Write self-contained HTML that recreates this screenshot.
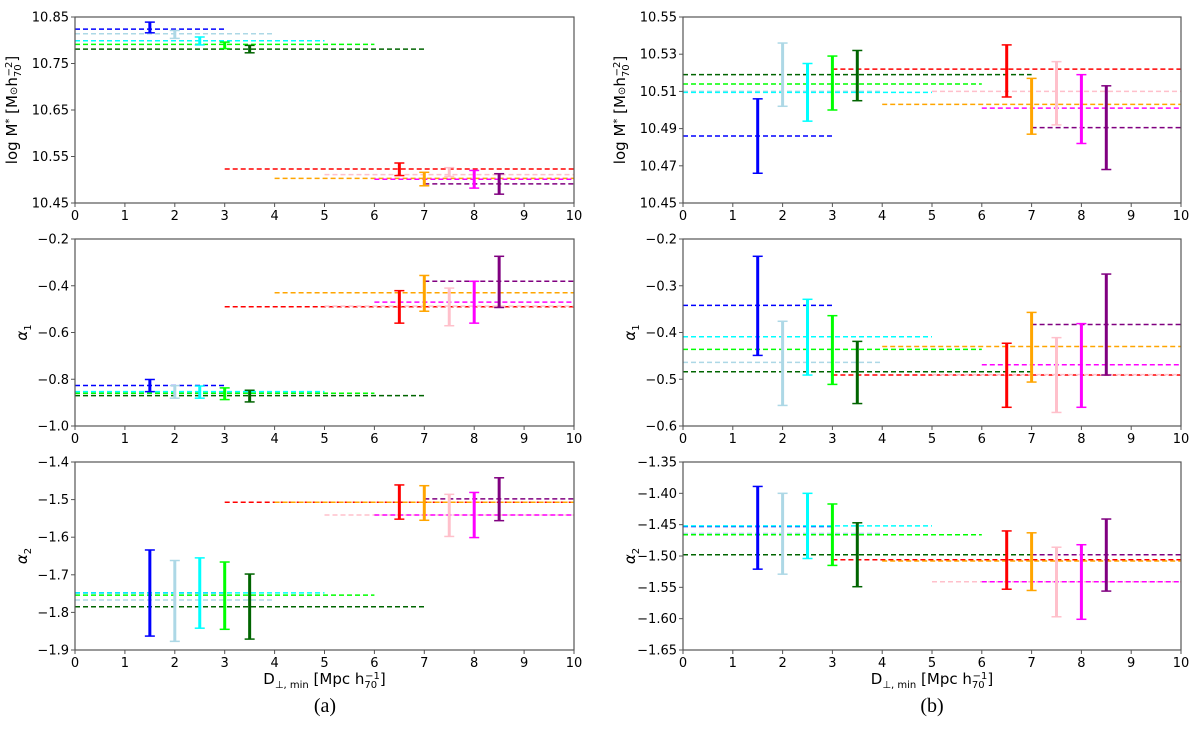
<!DOCTYPE html>
<html><head><meta charset="utf-8">
<style>
html,body{margin:0;padding:0;background:#fff;}
svg{display:block;font-family:"DejaVu Sans","Liberation Sans",sans-serif;}
</style></head>
<body>
<svg id="fig" width="1200" height="748" xmlns="http://www.w3.org/2000/svg"></svg>
<script>
const xPositions = [1.5, 2, 2.5, 3, 3.5, 6.5, 7, 7.5, 8, 8.5];
const lineStarts = [0, 0, 0, 0, 0, 3, 4, 5, 6, 7];
const lineEnds = [3, 4, 5, 6, 7, 10, 10, 10, 10, 10];
const seriesNames = ['blue','lightblue','cyan','green','darkgreen','red','orange','pink','magenta','purple'];
const seriesColors = ['#0000ff','#add8e6','#00ffff','#00ff00','#006400','#ff0000','#ffa500','#ffc0cb','#ff00ff','#800080'];
const xTicks = [0,1,2,3,4,5,6,7,8,9,10];

const aTopLow  = [10.816,10.804,10.790,10.782,10.773,10.509,10.487,10.507,10.482,10.469];
const aTopHigh = [10.839,10.821,10.807,10.796,10.789,10.536,10.516,10.526,10.520,10.513];
const aTopLine = [10.824,10.814,10.799,10.791,10.781,10.523,10.503,10.511,10.501,10.491];
const aTopTicks = [10.45,10.55,10.65,10.75,10.85];
const aTopTickLabels = ['10.45','10.55','10.65','10.75','10.85'];
const aMidLow  = [-0.853,-0.881,-0.881,-0.887,-0.897,-0.560,-0.509,-0.571,-0.560,-0.493];
const aMidHigh = [-0.801,-0.827,-0.829,-0.837,-0.847,-0.421,-0.356,-0.410,-0.381,-0.274];
const aMidLine = [-0.827,-0.860,-0.853,-0.860,-0.870,-0.490,-0.430,-0.487,-0.470,-0.381];
const aMidTicks = [-1.0,-0.8,-0.6,-0.4,-0.2];
const aMidTickLabels = ['−1.0','−0.8','−0.6','−0.4','−0.2'];
const aBotLow  = [-1.863,-1.877,-1.842,-1.845,-1.871,-1.552,-1.555,-1.598,-1.601,-1.556];
const aBotHigh = [-1.634,-1.662,-1.655,-1.666,-1.698,-1.461,-1.463,-1.486,-1.481,-1.442];
const aBotLine = [-1.748,-1.767,-1.748,-1.754,-1.785,-1.507,-1.507,-1.541,-1.541,-1.498];
const aBotTicks = [-1.9,-1.8,-1.7,-1.6,-1.5,-1.4];
const aBotTickLabels = ['−1.9','−1.8','−1.7','−1.6','−1.5','−1.4'];
const bTopLow  = [10.466,10.502,10.494,10.500,10.505,10.507,10.487,10.492,10.482,10.468];
const bTopHigh = [10.506,10.536,10.525,10.529,10.532,10.535,10.517,10.526,10.519,10.513];
const bTopLine = [10.486,10.510,10.5095,10.514,10.519,10.522,10.503,10.510,10.501,10.4905];
const bTopTicks = [10.45,10.47,10.49,10.51,10.53,10.55];
const bTopTickLabels = ['10.45','10.47','10.49','10.51','10.53','10.55'];
const bMidLow  = [-0.449,-0.556,-0.491,-0.511,-0.552,-0.560,-0.506,-0.571,-0.560,-0.491];
const bMidHigh = [-0.237,-0.376,-0.329,-0.364,-0.419,-0.423,-0.357,-0.411,-0.381,-0.275];
const bMidLine = [-0.342,-0.464,-0.409,-0.436,-0.484,-0.491,-0.430,-0.490,-0.469,-0.383];
const bMidTicks = [-0.6,-0.5,-0.4,-0.3,-0.2];
const bMidTickLabels = ['−0.6','−0.5','−0.4','−0.3','−0.2'];
const bBotLow  = [-1.521,-1.529,-1.504,-1.515,-1.549,-1.553,-1.555,-1.597,-1.601,-1.556];
const bBotHigh = [-1.389,-1.400,-1.400,-1.417,-1.447,-1.460,-1.463,-1.486,-1.482,-1.441];
const bBotLine = [-1.453,-1.464,-1.452,-1.466,-1.498,-1.506,-1.508,-1.541,-1.541,-1.498];
const bBotTicks = [-1.65,-1.60,-1.55,-1.50,-1.45,-1.40,-1.35];
const bBotTickLabels = ['−1.65','−1.60','−1.55','−1.50','−1.45','−1.40','−1.35'];

const NS='http://www.w3.org/2000/svg';
const svg=document.getElementById('fig');
function mk(tag,attrs,parent){const e=document.createElementNS(NS,tag);for(const k in attrs)e.setAttribute(k,attrs[k]);(parent||svg).appendChild(e);return e;}

function panel(id,x0,x1,y0,y1,yMin,yMax,ticks,tickLabels,low,high,line,ylabelKind,showXlabel){
  const g=mk('g',{});
  
  
  const sx=v=>x0+(v-0)/(10-0)*(x1-x0);
  const sy=v=>y1-(v-yMin)/(yMax-yMin)*(y1-y0);
  for(let i=0;i<line.length;i++){
    const l=mk('line',{x1:sx(lineStarts[i]),x2:sx(lineEnds[i]),y1:sy(line[i]),y2:sy(line[i]),stroke:seriesColors[i],'stroke-width':1.5,'stroke-dasharray':'5,3'},g);
    
    
  }
  for(let i=0;i<low.length;i++){
    const eb=mk('g',{},g);
    
    
    const cx=sx(xPositions[i]);
    mk('line',{x1:cx,x2:cx,y1:sy(low[i]),y2:sy(high[i]),stroke:seriesColors[i],'stroke-width':3},eb);
    mk('line',{x1:cx-5,x2:cx+5,y1:sy(low[i]),y2:sy(low[i]),stroke:seriesColors[i],'stroke-width':1.5},eb);
    mk('line',{x1:cx-5,x2:cx+5,y1:sy(high[i]),y2:sy(high[i]),stroke:seriesColors[i],'stroke-width':1.5},eb);
  }
  const fr=mk('rect',{x:x0,y:y0,width:x1-x0,height:y1-y0,fill:'none',stroke:'#555','stroke-width':1.2},g);
  
  
  for(const t of xTicks){
    const x=sx(t);
    mk('line',{x1:x,x2:x,y1:y1,y2:y1+4,stroke:'#555','stroke-width':1},g);
    const tx=mk('text',{x:x,y:y1+17,'font-size':13,'text-anchor':'middle',fill:'#000'},g);
    tx.textContent=t;
    
    
  }
  for(let i=0;i<ticks.length;i++){
    const y=sy(ticks[i]);
    mk('line',{x1:x0-4,x2:x0,y1:y,y2:y,stroke:'#555','stroke-width':1},g);
    const ty=mk('text',{x:x0-6,y:y+4.5,'font-size':13,'text-anchor':'end',fill:'#000'},g);
    ty.textContent=tickLabels[i];
    
    
  }
  const cy=(y0+y1)/2, lx=x0-58;
  const yl=mk('text',{transform:`translate(${lx},${cy}) rotate(-90)`,'font-size':15,'text-anchor':'middle',fill:'#000'},g);
  
  
  if(ylabelKind==='m'){
    yl.innerHTML='log M<tspan dy="-5" font-size="10">*</tspan><tspan dy="5"> [M</tspan><tspan font-size="10">⊙</tspan>h<tspan dy="4" font-size="10">70</tspan><tspan dy="-9" font-size="10" dx="-12">−2</tspan><tspan dy="5">]</tspan>';
  } else {
    yl.setAttribute('transform',`translate(${x0-48},${cy}) rotate(-90)`);
    yl.innerHTML='<tspan font-style="italic">α</tspan><tspan dy="4" font-size="10">'+ylabelKind+'</tspan>';
  }
  if(showXlabel){
    const xl=mk('text',{x:(x0+x1)/2,y:y1+34,'font-size':15,'text-anchor':'middle',fill:'#000'},g);
    
    
    xl.innerHTML='D<tspan dy="4" font-size="10">⊥, min</tspan><tspan dy="-4"> [Mpc h</tspan><tspan dy="4" font-size="10">70</tspan><tspan dy="-9" font-size="10" dx="-12">−1</tspan><tspan dy="5">]</tspan>';
  }
}
const L0=75,L1=574,R0=683,R1=1181;
const rows=[[17,203],[239,426],[462,650]];
panel('panel-a-mass',L0,L1,rows[0][0],rows[0][1],10.45,10.85,aTopTicks,aTopTickLabels,aTopLow,aTopHigh,aTopLine,'m',false);
panel('panel-a-alpha1',L0,L1,rows[1][0],rows[1][1],-1.0,-0.2,aMidTicks,aMidTickLabels,aMidLow,aMidHigh,aMidLine,'1',false);
panel('panel-a-alpha2',L0,L1,rows[2][0],rows[2][1],-1.9,-1.4,aBotTicks,aBotTickLabels,aBotLow,aBotHigh,aBotLine,'2',true);
panel('panel-b-mass',R0,R1,rows[0][0],rows[0][1],10.45,10.55,bTopTicks,bTopTickLabels,bTopLow,bTopHigh,bTopLine,'m',false);
panel('panel-b-alpha1',R0,R1,rows[1][0],rows[1][1],-0.6,-0.2,bMidTicks,bMidTickLabels,bMidLow,bMidHigh,bMidLine,'1',false);
panel('panel-b-alpha2',R0,R1,rows[2][0],rows[2][1],-1.65,-1.35,bBotTicks,bBotTickLabels,bBotLow,bBotHigh,bBotLine,'2',true);

const ca=mk('text',{x:325,y:712,'font-size':20,'text-anchor':'middle','font-family':'Liberation Serif, serif',fill:'#000'});
ca.textContent='(a)';


const cb=mk('text',{x:932,y:712,'font-size':20,'text-anchor':'middle','font-family':'Liberation Serif, serif',fill:'#000'});
cb.textContent='(b)';


</script>
</body></html>
